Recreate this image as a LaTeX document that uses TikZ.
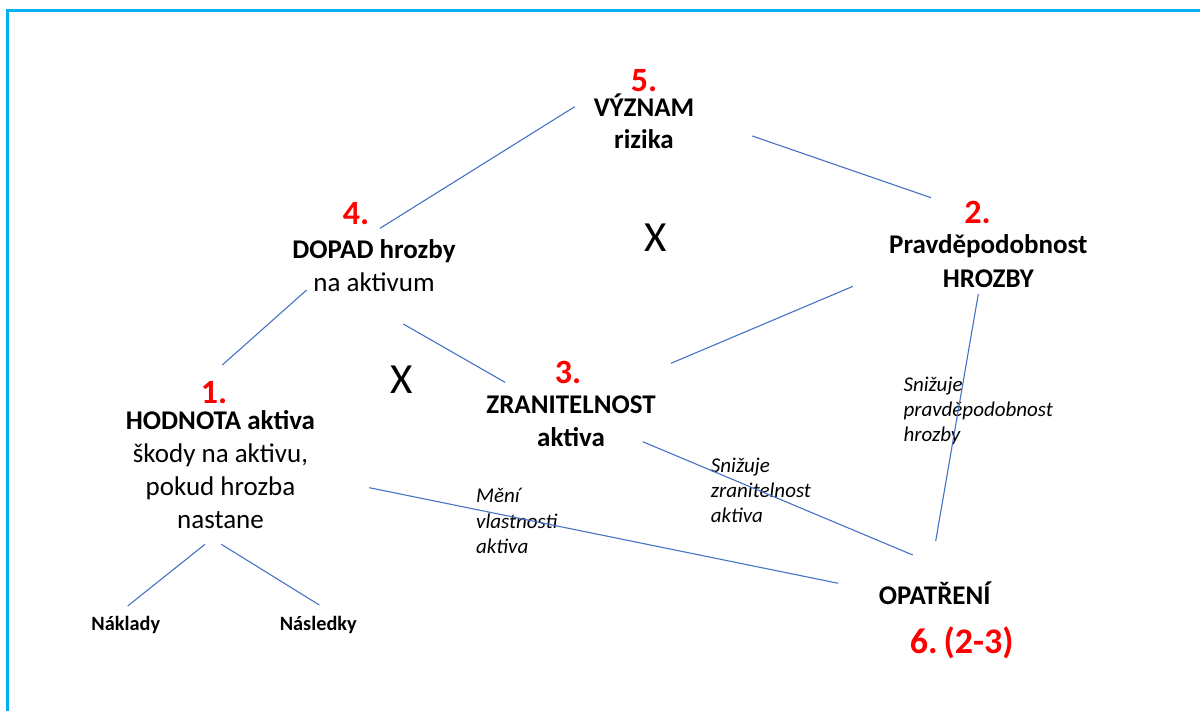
\documentclass[tikz,border=0pt]{standalone}
\usepackage{fontspec}
\setmainfont{Carlito}
\definecolor{linkblue}{HTML}{4472C4}
\definecolor{frameblue}{HTML}{00B0F0}
\definecolor{numred}{HTML}{FF0000}
\begin{document}
\begin{tikzpicture}[x=1pt,y=-1pt,
    lbl/.style={inner sep=0pt,anchor=base,align=center,font=\fontsize{27}{32.8}\selectfont},
    num/.style={inner sep=0pt,anchor=base,text=numred,font=\fontsize{34}{40}\selectfont\bfseries},
    note/.style={inner sep=0pt,anchor=base west,align=left,font=\fontsize{21}{25.2}\selectfont\itshape},
    small/.style={inner sep=0pt,anchor=base,font=\fontsize{20.3}{24}\selectfont\bfseries},
    cross/.style={inner sep=0pt,anchor=base,font=\fontsize{43}{50}\selectfont},
    link/.style={linkblue,line width=1.1pt}]
                \useasboundingbox (0,0) rectangle (1200,711);
                \draw[frameblue,line width=2.4pt] (1200,10.5) -- (7.5,10.5) -- (7.5,711);

                % multi-line nodes sit on their last line
                \node[num] (n5) at (644,91.7) {5.};
                \node[lbl,font=\fontsize{27}{31.6}\selectfont\bfseries] (vyznam) at (644,148.3) {VÝZNAM\\rizika};
                \node[num] (n4) at (356,225) {4.};
                \node[lbl] (dopad) at (374,291.7) {\textbf{DOPAD hrozby}\\na aktivum};
                \node[num] (n2) at (977.5,224) {2.};
                \node[lbl,font=\fontsize{27}{33.3}\selectfont\bfseries] (pravd) at (988.3,287.3) {Pravděpodobnost\\HROZBY};
                \node[num] (n3) at (568,383.3) {3.};
                \node[lbl,font=\fontsize{27}{32.7}\selectfont\bfseries] (zranit) at (571,446) {ZRANITELNOST\\aktiva};
                \node[num] (n1) at (214,403.3) {1.};
                \node[lbl] (hodnota) at (220.5,528.3) {\textbf{HODNOTA aktiva}\\škody na aktivu,\\pokud hrozba\\nastane};
                \node[lbl,font=\fontsize{27}{30}\selectfont\bfseries] (opatreni) at (934.7,604) {OPATŘENÍ};
                \node[num,font=\fontsize{36}{42}\selectfont\bfseries] (n6) at (961.7,653.3) {6.\,(2-3)};
                \node[small] (naklady) at (125.8,630) {Náklady};
                \node[small] (nasledky) at (318.3,630) {Následky};
                \node[cross] (x1) at (656,251.7) {X};
                \node[cross] (x2) at (402,393.3) {X};

                \node[note] (snizpr) at (903.3,441.7) {Snižuje\\pravděpodobnost\\hrozby};
                \node[note] (meni) at (476,553.3) {Mění\\vlastnosti\\aktiva};
                \node[note] (snizzr) at (710.7,522.7) {Snižuje\\zranitelnost\\aktiva};

                % line ends
                \coordinate (vyznam-l) at (574.7,106.7);
                \coordinate (vyznam-r) at (752.3,136);
                \coordinate (dopad-t) at (380,228.3);
                \coordinate (dopad-l) at (306.7,290);
                \coordinate (dopad-r) at (403.3,324);
                \coordinate (pravd-t) at (931,197.7);
                \coordinate (pravd-l) at (853,286.3);
                \coordinate (pravd-b) at (978.3,294);
                \coordinate (zranit-t) at (505,382.3);
                \coordinate (zranit-r) at (671,363.3);
                \coordinate (zranit-b) at (642.7,441.7);
                \coordinate (hodnota-t) at (222.3,365);
                \coordinate (hodnota-r) at (369.3,487.7);
                \coordinate (hodnota-bl) at (205,544.3);
                \coordinate (hodnota-br) at (221.3,544.3);
                \coordinate (naklady-t) at (127.7,606);
                \coordinate (nasledky-t) at (319.3,605);
                \coordinate (opatreni-l) at (838.3,583.3);
                \coordinate (opatreni-tl) at (912.7,555);
                \coordinate (opatreni-t) at (935.7,541);

                \draw[link] (vyznam-l) -- (dopad-t);
                \draw[link] (vyznam-r) -- (pravd-t);
                \draw[link] (dopad-l) -- (hodnota-t);
                \draw[link] (dopad-r) -- (zranit-t);
                \draw[link] (pravd-l) -- (zranit-r);
                \draw[link] (pravd-b) -- (opatreni-t);
                \draw[link] (zranit-b) -- (opatreni-tl);
                \draw[link] (hodnota-r) -- (opatreni-l);
                \draw[link] (hodnota-bl) -- (naklady-t);
                \draw[link] (hodnota-br) -- (nasledky-t);
            \end{tikzpicture}
\end{document}
